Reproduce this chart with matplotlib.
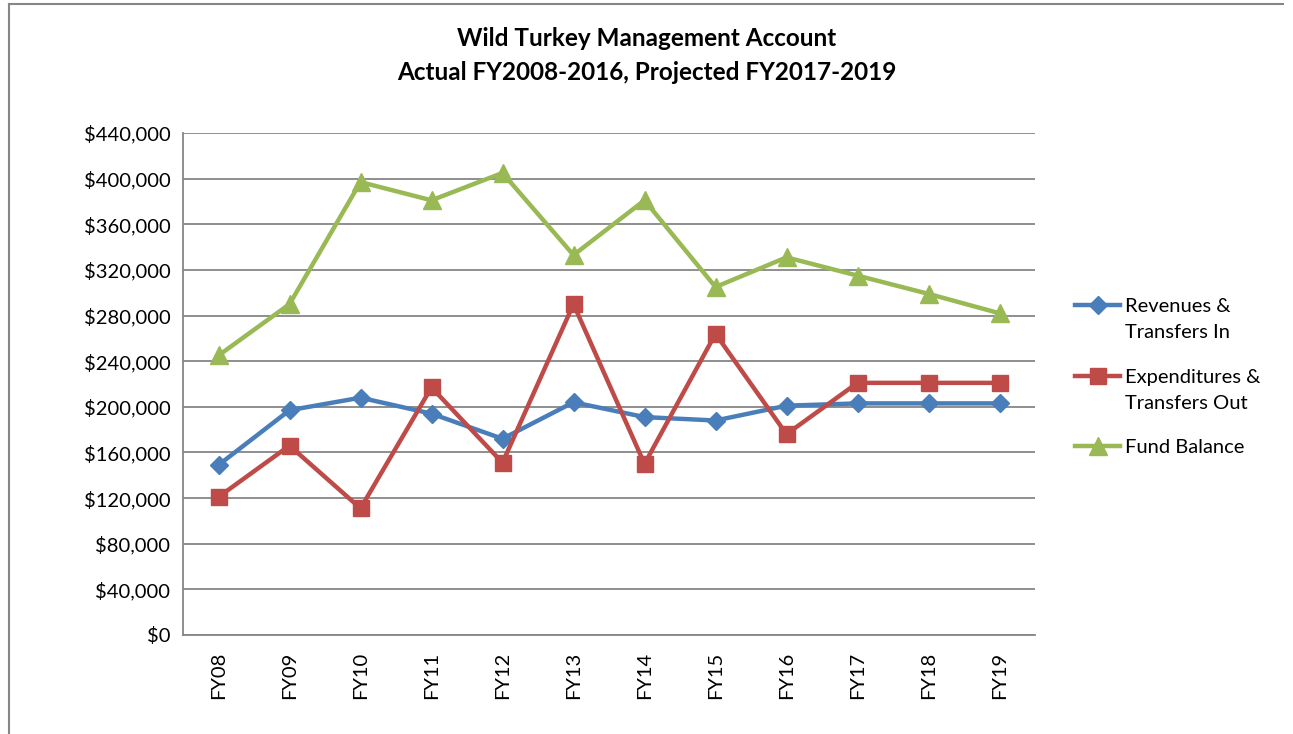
import matplotlib.pyplot as plt
from matplotlib.lines import Line2D
from matplotlib.ticker import FuncFormatter

plt.rcParams['font.family'] = ['Lato', 'DejaVu Sans']

years = ['FY08', 'FY09', 'FY10', 'FY11', 'FY12', 'FY13',
         'FY14', 'FY15', 'FY16', 'FY17', 'FY18', 'FY19']
revenues = [149000, 197000, 208000, 194000, 172000, 204000,
            191000, 188000, 201000, 203000, 203000, 203000]
expenditures = [121000, 166000, 111000, 217000, 151000, 290000,
                150000, 264000, 176000, 221000, 221000, 221000]
fund_balance = [245000, 290000, 397000, 381000, 405000, 333000,
                381000, 305000, 331000, 315000, 299000, 282000]
series_names = ['Revenues &\nTransfers In', 'Expenditures &\nTransfers Out', 'Fund Balance']

W, H = 1293, 734
fig = plt.figure(figsize=(W / 100, H / 100), dpi=100)
ax = fig.add_axes([183 / W, 1 - 635 / H, (1035 - 183) / W, (635 - 133) / H])

styles = [('#4A7EBB', 'D', 9), ('#BE4B48', 's', 11), ('#98B954', '^', 13)]
x = list(range(len(years)))
for vals, (c, m, s) in zip([revenues, expenditures, fund_balance], styles):
    ax.plot(x, vals, color=c, lw=3.2, marker=m, ms=s)

ax.set_xlim(-0.5, len(years) - 0.5)
ax.set_ylim(0, 440000)
ax.set_yticks(range(0, 440001, 40000))
ax.yaxis.set_major_formatter(FuncFormatter(lambda v, p: '${:,.0f}'.format(v)))
ax.set_xticks(x)
ax.set_xticklabels(years, rotation=90)
ax.tick_params(length=0, labelsize=14.5, colors='black', pad=12)
ax.tick_params(axis='y', pad=9)
ax.grid(axis='y', color='#868686', lw=1.3)
ax.set_axisbelow(True)
for s in ['top', 'right']:
    ax.spines[s].set_visible(False)
for s in ['left', 'bottom']:
    ax.spines[s].set_color('#868686')
    ax.spines[s].set_linewidth(1.3)

fig.text(0.5, 1 - 38 / H, 'Wild Turkey Management Account', ha='center', va='center',
         fontsize=17.5, fontweight='bold')
fig.text(0.5, 1 - 73 / H, 'Actual FY2008-2016, Projected FY2017-2019', ha='center', va='center',
         fontsize=17.5, fontweight='bold')

# legend, drawn by hand so the handle sits on the first text line
for (c, m, s), name, ly in zip(styles, series_names, [305, 376, 446]):
    yy = 1 - ly / H
    fig.add_artist(Line2D([1075 / W, 1120 / W], [yy, yy], color=c, lw=3.2))
    fig.add_artist(Line2D([1097.5 / W], [yy], color=c, marker=m, ms=s))
    fig.text(1125 / W, 1 - (ly - 7) / H, name, ha='left', va='top', fontsize=14.5,
             linespacing=1.65)

# outer chart frame
fig.add_artist(Line2D([9 / W, 9 / W], [0, 1 - 4 / H], color='#868686', lw=1.5))
fig.add_artist(Line2D([9 / W, 1283 / W], [1 - 4 / H, 1 - 4 / H], color='#868686', lw=1.5))

fig.savefig('out.png', dpi=100)
